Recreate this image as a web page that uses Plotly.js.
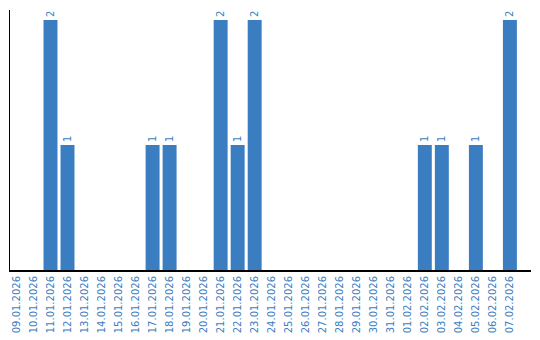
<!DOCTYPE html>
<html>
<head>
<meta charset="utf-8">
<script src="https://cdn.plot.ly/plotly-3.0.1.min.js"></script>
<style>html,body{margin:0;padding:0;background:#fff;}#chart{width:540px;height:340px;}</style>
</head>
<body>
<div id="chart"></div>
<script>
const dates = ["09.01.2026","10.01.2026","11.01.2026","12.01.2026","13.01.2026","14.01.2026","15.01.2026","16.01.2026","17.01.2026","18.01.2026","19.01.2026","20.01.2026","21.01.2026","22.01.2026","23.01.2026","24.01.2026","25.01.2026","26.01.2026","27.01.2026","28.01.2026","29.01.2026","30.01.2026","31.01.2026","01.02.2026","02.02.2026","03.02.2026","04.02.2026","05.02.2026","06.02.2026","07.02.2026"];
const counts = [0,0,2,1,0,0,0,0,1,1,0,0,2,1,2,0,0,0,0,0,0,0,0,0,1,1,0,1,0,2];
const labels = counts.map(v => v > 0 ? String(v) : "");

const blue = "#3b7dc1";
Plotly.newPlot("chart", [{
  type: "bar",
  x: dates,
  y: counts,
  text: labels,
  textposition: "outside",
  textangle: -90,
  constraintext: "none",
  cliponaxis: false,
  textfont: {family: "DejaVu Sans, Verdana, sans-serif", size: 10, color: blue},
  marker: {color: blue},
  hoverinfo: "none"
}], {
  width: 540, height: 340,
  margin: {l: 10, r: 9, t: 10, b: 70, pad: 0},
  paper_bgcolor: "#fff", plot_bgcolor: "#fff",
  bargap: 0.18,
  showlegend: false,
  font: {family: "DejaVu Sans, Verdana, sans-serif", size: 10, color: blue},
  xaxis: {
    type: "category",
    range: [-0.38, 30.24],
    tickangle: -90,
    showgrid: false, zeroline: false,
    showline: true, linecolor: "#000", linewidth: 2,
    ticks: "", ticklen: 0,
    tickfont: {family: "DejaVu Sans, Verdana, sans-serif", size: 10, color: blue},
    fixedrange: true
  },
  yaxis: {
    range: [0, 2.08],
    showgrid: false, zeroline: false,
    showline: true, linecolor: "#000", linewidth: 1,
    showticklabels: false, ticks: "",
    fixedrange: true
  }
}, {displayModeBar: false, staticPlot: true});
</script>
</body>
</html>
